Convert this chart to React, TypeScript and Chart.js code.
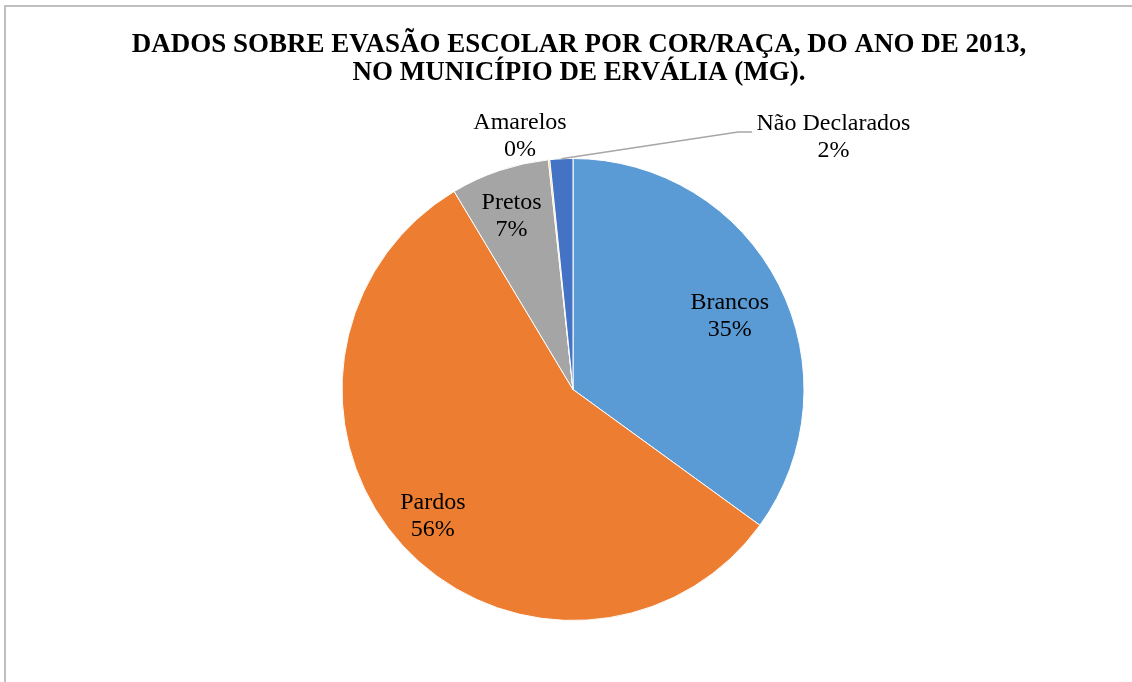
import React, { useEffect, useRef } from "react";
import { Chart, registerables } from "chart.js";

Chart.register(...registerables);

const TITLE_LINES = [
  "DADOS SOBRE EVASÃO ESCOLAR POR COR/RAÇA, DO ANO DE 2013,",
  "NO MUNICÍPIO DE ERVÁLIA (MG).",
];
const CATEGORIES = ["Brancos", "Pardos", "Pretos", "Amarelos", "Não Declarados"];
const VALUES = [35.0, 56.4, 6.9, 0.1, 1.6];
const COLORS = ["#5B9BD5", "#ED7D31", "#A5A5A5", "#FFC000", "#4472C4"];

const SERIF = "'Liberation Serif', 'Times New Roman', serif";

type LabelLayout = {
  frac?: number;
  dx?: number;
  dy?: number;
  outside?: boolean;
  leader?: number[][];
};

const LABEL_LAYOUT: LabelLayout[] = [
  { frac: 0.747, dx: 3, dy: 5 },
  { frac: 0.817, dx: -1, dy: -1 },
  { frac: 0.795, dx: -3, dy: 1 },
  { outside: true, dx: -53, dy: -253.5 },
  { outside: true, dx: 260.5, dy: -252, leader: [[165, -257.5], [179, -257.5]] },
];

const excelLook = {
  id: "excelLook",
  beforeDraw(chart: any) {
    const ctx = chart.ctx;
    ctx.save();
    ctx.fillStyle = "#ffffff";
    ctx.fillRect(0, 0, chart.width, chart.height);
    ctx.strokeStyle = "#BFBFBF";
    ctx.lineWidth = 2;
    ctx.beginPath();
    ctx.moveTo(5, chart.height);
    ctx.lineTo(5, 6);
    ctx.lineTo(chart.width, 6);
    ctx.stroke();
    ctx.fillStyle = "#000000";
    ctx.font = `bold 27px ${SERIF}`;
    ctx.textAlign = "center";
    ctx.textBaseline = "alphabetic";
    TITLE_LINES.forEach((t, i) => ctx.fillText(t, 579, 52 + i * 28));
    ctx.restore();
  },
  afterDatasetsDraw(chart: any) {
    const ctx = chart.ctx;
    const meta = chart.getDatasetMeta(0);
    const data: number[] = chart.data.datasets[0].data;
    const total = data.reduce((a, b) => a + b, 0);
    ctx.save();
    ctx.font = `24px ${SERIF}`;
    ctx.fillStyle = "#000000";
    ctx.textAlign = "center";
    ctx.textBaseline = "middle";
    meta.data.forEach((arc: any, i: number) => {
      const { x, y, startAngle, endAngle, outerRadius } = arc.getProps(
        ["x", "y", "startAngle", "endAngle", "outerRadius"],
        true
      );
      const mid = (startAngle + endAngle) / 2;
      const lay = LABEL_LAYOUT[i];
      let lx: number, ly: number;
      if (lay.outside) {
        lx = x + (lay.dx || 0);
        ly = y + (lay.dy || 0);
      } else {
        const r = outerRadius * (lay.frac || 0.75);
        lx = x + Math.cos(mid) * r + (lay.dx || 0);
        ly = y + Math.sin(mid) * r + (lay.dy || 0);
      }
      if (lay.leader) {
        ctx.save();
        ctx.strokeStyle = "#A6A6A6";
        ctx.lineWidth = 1.5;
        ctx.beginPath();
        ctx.moveTo(x + Math.cos(mid) * outerRadius, y + Math.sin(mid) * outerRadius);
        lay.leader.forEach((p) => ctx.lineTo(x + p[0], y + p[1]));
        ctx.stroke();
        ctx.restore();
      }
      const pct = Math.round((data[i] / total) * 100) + "%";
      ctx.fillText(CATEGORIES[i], lx, ly - 13.5);
      ctx.fillText(pct, lx, ly + 13.5);
    });
    ctx.restore();
  },
};

export default function App() {
  const ref = useRef<HTMLCanvasElement | null>(null);
  useEffect(() => {
    if (!ref.current) return;
    const chart = new Chart(ref.current, {
      type: "pie",
      data: {
        labels: CATEGORIES,
        datasets: [
          {
            data: VALUES,
            backgroundColor: COLORS,
            borderColor: "#ffffff",
            borderWidth: 1,
            hoverOffset: 0,
          },
        ],
      },
      options: {
        responsive: false,
        animation: false,
        layout: { padding: { top: 158, bottom: 61, left: 14, right: 0 } },
        plugins: {
          legend: { display: false },
          tooltip: { enabled: false },
          title: { display: false },
        },
      },
      plugins: [excelLook],
    });
    return () => chart.destroy();
  }, []);
  return (
    <div style={{ position: "fixed", left: 0, top: 0, width: 1132, height: 682, background: "#fff", overflow: "hidden" }}>
      <canvas ref={ref} width={1132} height={682} style={{ display: "block", width: 1132, height: 682 }} />
    </div>
  );
}
